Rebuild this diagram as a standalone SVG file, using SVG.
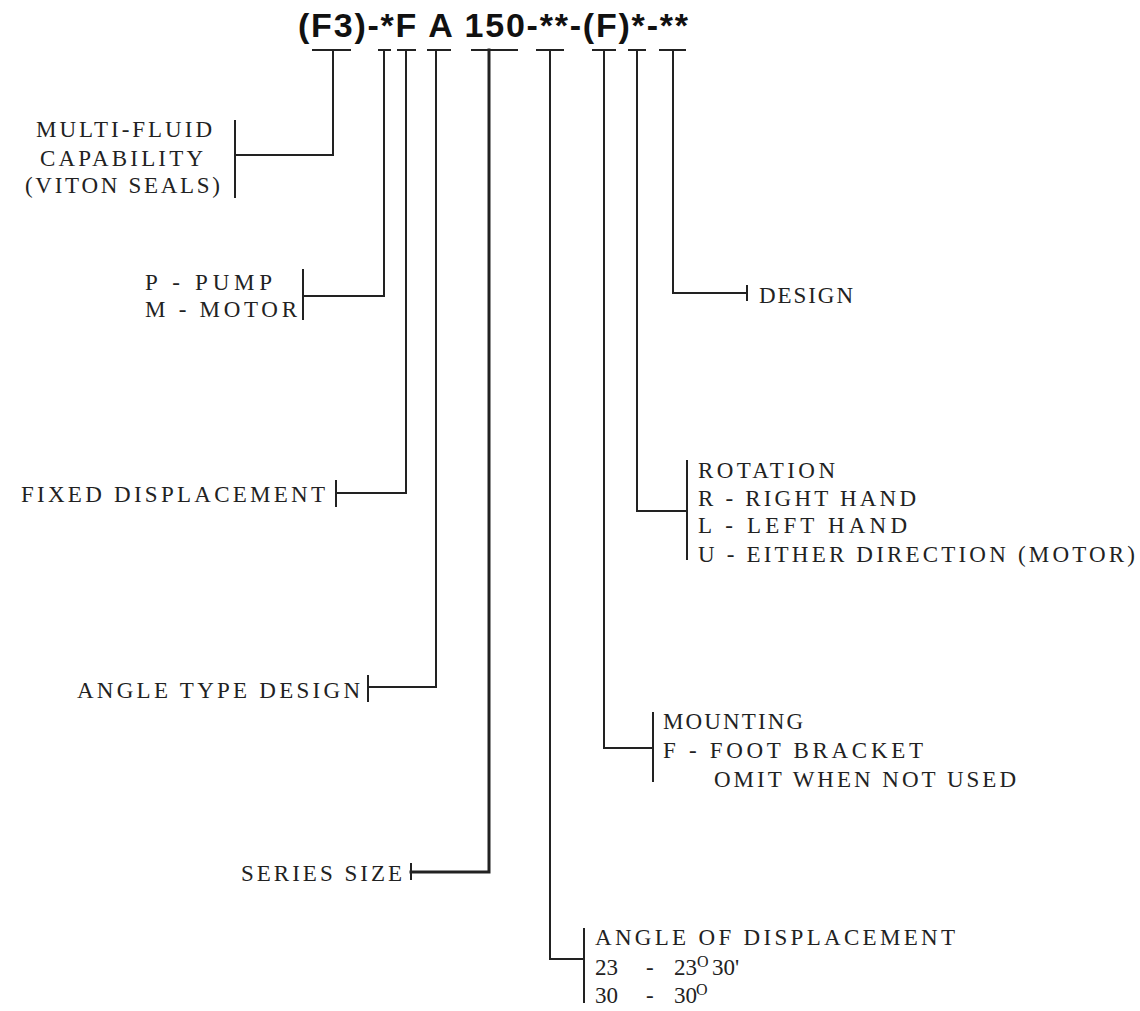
<svg xmlns="http://www.w3.org/2000/svg" width="1140" height="1011" viewBox="0 0 1140 1011">
<style>
.t{font-family:"Liberation Serif","Times New Roman",serif;font-size:23px;fill:#222}
.ttl{font-family:"Liberation Sans",Arial,sans-serif;font-weight:bold;font-size:34px;fill:#111}
.ln{fill:none;stroke:#222;stroke-width:2;stroke-linecap:square}
.br{fill:none;stroke:#222;stroke-width:2}
.sup{font-size:16px}
</style>
<rect width="1140" height="1011" fill="#fff"/>
<g id="title">
<text class="ttl" x="298" y="37" textLength="390" lengthAdjust="spacing">(F3)-*F A 150-**-(F)*-**</text>
<path class="ln" d="M313,50H350M379,50H390M398,50H415M428,50H450M472,50H517M537,50H563M593,50H615M629,50H645M660,50H685"/>
</g>
<g id="connectors">
<path class="ln" d="M333,50V155H235"/>
<path class="ln" d="M384,50V296H303"/>
<path class="ln" d="M406,50V493H336"/>
<path class="ln" d="M436,50V687H368"/>
<path class="ln" d="M489,50V872H411" style="stroke-width:3"/>
<path class="ln" d="M550,50V959H584"/>
<path class="ln" d="M604,50V748H653"/>
<path class="ln" d="M637,50V511H687"/>
<path class="ln" d="M673,50V293H747"/>
</g>
<g id="node-multifluid">
<line class="br" x1="235" y1="120" x2="235" y2="198"/>
<text class="t" x="36" y="137" textLength="176" lengthAdjust="spacing">MULTI-FLUID</text>
<text class="t" x="40" y="166" textLength="163" lengthAdjust="spacing">CAPABILITY</text>
<text class="t" x="25" y="193" textLength="195" lengthAdjust="spacing">(VITON SEALS)</text>
</g>
<g id="node-pump-motor">
<line class="br" x1="303" y1="269" x2="303" y2="320"/>
<text class="t" x="145" y="290" textLength="127" lengthAdjust="spacing">P - PUMP</text>
<text class="t" x="145" y="317" textLength="152" lengthAdjust="spacing">M - MOTOR</text>
</g>
<g id="node-fixed">
<line class="br" x1="336" y1="480" x2="336" y2="507"/>
<text class="t" x="21" y="502" textLength="304" lengthAdjust="spacing">FIXED DISPLACEMENT</text>
</g>
<g id="node-angle-type">
<line class="br" x1="368" y1="675" x2="368" y2="702"/>
<text class="t" x="77" y="698" textLength="283" lengthAdjust="spacing">ANGLE TYPE DESIGN</text>
</g>
<g id="node-series">
<line class="br" x1="411" y1="863" x2="411" y2="880"/>
<text class="t" x="241" y="881" textLength="161" lengthAdjust="spacing">SERIES SIZE</text>
</g>
<g id="node-angle-disp">
<line class="br" x1="584" y1="928" x2="584" y2="1003"/>
<text class="t" x="595" y="945" textLength="360" lengthAdjust="spacing">ANGLE OF DISPLACEMENT</text>
<text class="t" y="975"><tspan x="595">23</tspan><tspan x="646">-</tspan><tspan x="674">23</tspan><tspan class="sup" x="697" dy="-8">O</tspan><tspan x="712" dy="8">30'</tspan></text>
<text class="t" y="1003"><tspan x="595">30</tspan><tspan x="646">-</tspan><tspan x="674">30</tspan><tspan class="sup" x="696" dy="-8">O</tspan></text>
</g>
<g id="node-mounting">
<line class="br" x1="653" y1="712" x2="653" y2="782"/>
<text class="t" x="663" y="729" textLength="140" lengthAdjust="spacing">MOUNTING</text>
<text class="t" x="663" y="758" textLength="260" lengthAdjust="spacing">F - FOOT BRACKET</text>
<text class="t" x="714" y="787" textLength="302" lengthAdjust="spacing">OMIT WHEN NOT USED</text>
</g>
<g id="node-rotation">
<line class="br" x1="687" y1="460" x2="687" y2="560"/>
<text class="t" x="698" y="478" textLength="137" lengthAdjust="spacing">ROTATION</text>
<text class="t" x="698" y="506" textLength="218" lengthAdjust="spacing">R - RIGHT HAND</text>
<text class="t" x="698" y="533" textLength="209" lengthAdjust="spacing">L - LEFT HAND</text>
<text class="t" x="698" y="562" textLength="437" lengthAdjust="spacing">U - EITHER DIRECTION (MOTOR)</text>
</g>
<g id="node-design">
<line class="br" x1="747" y1="285" x2="747" y2="301"/>
<text class="t" x="759" y="303" textLength="94" lengthAdjust="spacing">DESIGN</text>
</g>
</svg>
